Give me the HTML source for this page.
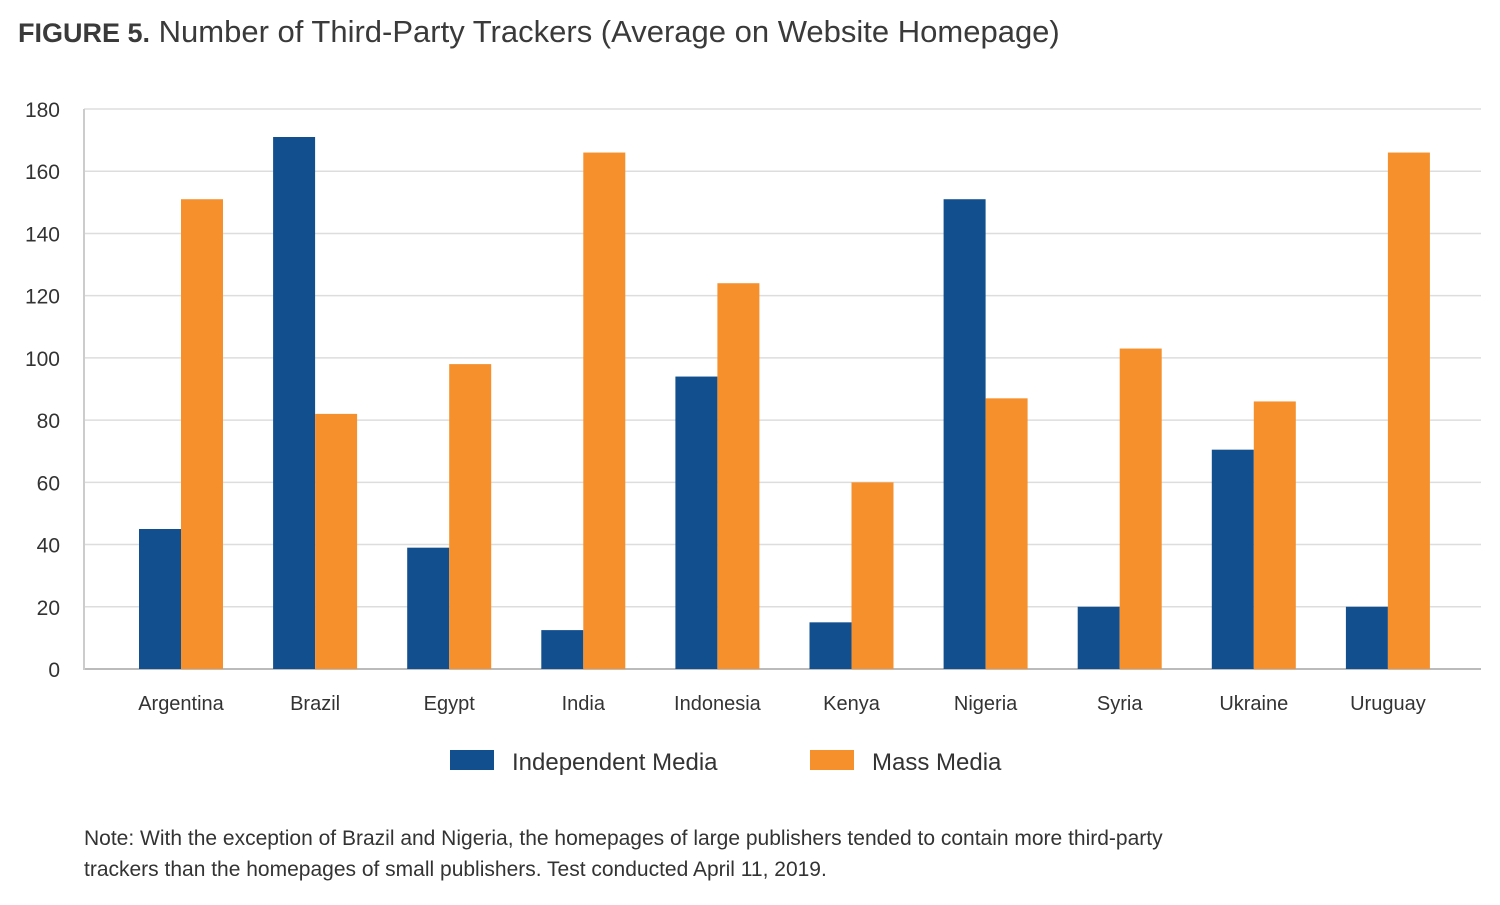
<!DOCTYPE html>
<html><head><meta charset="utf-8"><style>
body{margin:0;background:#fff;width:1500px;height:900px;overflow:hidden;font-family:"Liberation Sans",sans-serif;}
svg text{font-family:"Liberation Sans",sans-serif;}
</style></head><body>
<svg id="chart" width="1500" height="900">
<text x="18" y="42" font-size="31" fill="#3a3a3a"><tspan font-weight="bold" font-size="27">FIGURE 5.</tspan> Number of Third-Party Trackers (Average on Website Homepage)</text>
<g id="grid"></g><g id="bars"></g><g id="labels"></g>
<g>
<rect x="450" y="750" width="44" height="20" fill="#124f8f"/>
<text x="512" y="770" font-size="24" fill="#333">Independent Media</text>
<rect x="810" y="750" width="44" height="20" fill="#f5902d"/>
<text x="872" y="770" font-size="24" fill="#333">Mass Media</text>
</g>
<text x="84" y="845" font-size="21" fill="#333">Note: With the exception of Brazil and Nigeria, the homepages of large publishers tended to contain more third-party</text>
<text x="84" y="876" font-size="21" fill="#333">trackers than the homepages of small publishers. Test conducted April 11, 2019.</text>
</svg>
<script>
const categories=["Argentina","Brazil","Egypt","India","Indonesia","Kenya","Nigeria","Syria","Ukraine","Uruguay"];
const independent=[45,171,39,12.5,94,15,151,20,70.5,20];
const mass=[151,82,98,166,124,60,87,103,86,166];
const yTicks=[0,20,40,60,80,100,120,140,160,180];
const NS="http://www.w3.org/2000/svg";
const y0=669,y1=109,yMax=180;
const y=v=>y0-(v/yMax)*(y0-y1);
const x=i=>181+i*134.1;
const bw=42;
function mk(tag,attrs,parent){const e=document.createElementNS(NS,tag);for(const k in attrs)e.setAttribute(k,attrs[k]);document.getElementById(parent).appendChild(e);return e;}
yTicks.forEach(t=>{
 const l=mk("line",{x1:84,x2:1481,y1:y(t),y2:y(t),stroke:t===0?"#bbb":"#ddd","stroke-width":t===0?2:1.5},"grid");
 
 
 const tx=mk("text",{x:60,y:y(t)+8,"font-size":21,fill:"#333","text-anchor":"end"},"grid");
 tx.textContent=t;
 
 
});
const ax=mk("line",{x1:84,x2:84,y1:109,y2:670,stroke:"#ccc","stroke-width":2},"grid");


categories.forEach((c,i)=>{
 const b1=mk("rect",{x:x(i)-bw,y:y(independent[i]),width:bw,height:y0-y(independent[i]),fill:"#124f8f"},"bars");
 
 
 const b2=mk("rect",{x:x(i),y:y(mass[i]),width:bw,height:y0-y(mass[i]),fill:"#f5902d"},"bars");
 
 
 const t=mk("text",{x:x(i),y:710,"font-size":20,fill:"#333","text-anchor":"middle"},"labels");
 t.textContent=c;
 
 
});
</script>
</body></html>
